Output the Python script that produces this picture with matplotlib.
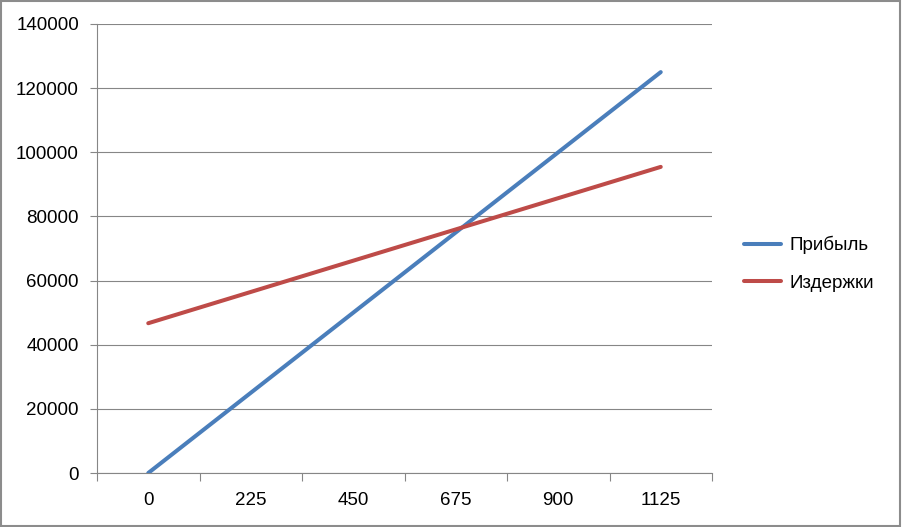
import matplotlib
matplotlib.use("Agg")
import matplotlib.pyplot as plt
from matplotlib.patches import Rectangle
import numpy as np

categories = ["0", "225", "450", "675", "900", "1125"]
profit = [0, 25000, 50000, 75000, 100000, 125000]
costs = [46700, 56450, 66200, 75950, 85700, 95450]
series_names = ["Прибыль", "Издержки"]

plt.rcParams['font.family'] = ['Liberation Sans', 'DejaVu Sans']
W, H = 902, 527
fig = plt.figure(figsize=(W/100, H/100), dpi=100)
ax = fig.add_axes([97/W, (H-473)/H, (712-97)/W, (473-24)/H])

grid_c = "#868686"
fs = 13.5
x = np.arange(len(categories))
ax.plot(x, profit, color="#4A7EBB", lw=2.9, solid_capstyle='round', label=series_names[0], zorder=3)
ax.plot(x, costs, color="#BE4B48", lw=2.9, solid_capstyle='round', label=series_names[1], zorder=3)

ax.set_xlim(-0.5, len(categories) - 0.5)
ax.set_ylim(0, 140000)
ax.set_yticks(np.arange(0, 140001, 20000))
ax.yaxis.grid(True, color=grid_c, lw=0.8)
ax.set_axisbelow(True)

ax.set_xticks(np.arange(-0.5, len(categories)), labels=[""] * (len(categories) + 1))
ax.set_xticks(x, labels=categories, minor=True)
ax.tick_params(axis='x', which='major', length=6, color=grid_c, width=0.8, direction='out')
ax.tick_params(axis='x', which='minor', length=0, pad=14, labelsize=fs)
ax.tick_params(axis='y', length=5, color=grid_c, width=0.8, pad=8, labelsize=fs)

for s in ['top', 'right']:
    ax.spines[s].set_visible(False)
for s in ['left', 'bottom']:
    ax.spines[s].set_color(grid_c)
    ax.spines[s].set_linewidth(0.8)

fig.legend(loc='center left', bbox_to_anchor=(727/W, (H-264)/H), frameon=False,
           fontsize=fs, handlelength=2.0, handletextpad=0.42, labelspacing=1.1)

fig.patches.append(Rectangle((0.001, 0.002), 0.997, 0.996, transform=fig.transFigure,
                             fill=False, edgecolor="#8C8C8C", lw=1.5))
fig.savefig("out.png", dpi=100)
